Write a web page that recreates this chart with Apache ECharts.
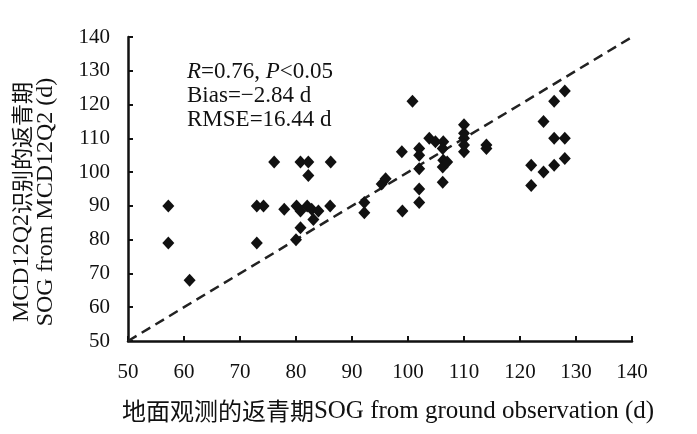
<!DOCTYPE html>
<html lang="zh">
<head>
    <meta charset="utf-8"/>
    <title>SOG scatter</title>
    <script src="https://cdn.jsdelivr.net/npm/echarts@6.0.0/dist/echarts.min.js"></script>
</head>
<body style="margin: 0; background: #fff">
<div id="chart" style="width: 697px; height: 434px"></div>
<script>
    const groundSog = [57.2, 57.2, 61, 73, 73, 74.2, 76.1, 77.9, 80, 80.1, 80.8, 80.8, 80.8, 82.2, 82.2, 82,
        82.8, 83.1, 84, 86.2, 86.1, 92.2, 92.2, 95.3, 96, 98.9, 99, 100.8, 102, 102, 102, 102, 102,
        103.8, 104.9, 106.3, 106.2, 106.3, 106.2, 106.2, 107, 110, 110, 110, 110, 110, 114, 114,
        122, 122, 124.2, 124.2, 126.1, 126.1, 126.1, 128, 128, 128];
    const modisSog = [90, 79, 68, 79, 90, 90, 103, 89, 80, 90, 83.5, 88.5, 103, 103, 99, 90,
        89, 86, 88.5, 103, 90, 91, 88, 96.5, 98, 106, 88.5, 121, 107, 105, 101, 95, 91,
        110, 109, 109, 107, 103.5, 101.5, 97, 103, 114, 111.5, 110, 108, 106, 108, 107,
        102, 96, 115, 100, 121, 110, 102, 124, 110, 104];
    const oneToOne = [[50, 50], [140, 140]];
    const statLines = ['{i|R}=0.76, {i|P}<0.05', 'Bias=\u22122.84 d', 'RMSE=16.44 d'];
    const xName = ['地面观测的返青期', 'SOG from ground observation (d)'];
    const yName = [['MCD12Q2', '识别的返青期'], ['SOG from MCD12Q2 (d)']];

    const serif = '"Liberation Serif", "Noto Sans CJK SC", serif';
    const ink = '#111';

    let points = groundSog.map((x, i) => [x, modisSog[i]]);

    let axisCommon = {
        type: 'value',
        min: 50,
        max: 140,
        interval: 10,
        axisLine: {onZero: false, lineStyle: {color: ink, width: 2.5}},
        axisTick: {inside: true, length: 5, lineStyle: {color: ink, width: 2}},
        splitLine: {show: false},
        axisLabel: {color: ink, fontFamily: serif, fontSize: 21},
        nameLocation: 'middle'
    };

    let nameRich = {
        cn: {fontFamily: '"Noto Sans CJK SC"', fontSize: 22, lineHeight: 24, color: ink},
        en: {fontFamily: serif, fontSize: 24, lineHeight: 24, color: ink}
    };

    let chart = echarts.init(document.getElementById('chart'));
    chart.setOption({
        animation: false,
        grid: {left: 128, right: 65, top: 37, bottom: 93},
        xAxis: Object.assign({}, axisCommon, {
            axisLabel: Object.assign({}, axisCommon.axisLabel, {margin: 21}),
            name: '{cn|' + xName[0] + '}{en|' + xName[1] + '}',
            nameGap: 58,
            nameTextStyle: {
                padding: [0, 0, 0, 16],
                rich: {
                    cn: Object.assign({}, nameRich.cn, {fontSize: 24}),
                    en: Object.assign({}, nameRich.en, {fontSize: 25})
                }
            }
        }),
        yAxis: Object.assign({}, axisCommon, {
            axisLabel: Object.assign({}, axisCommon.axisLabel, {margin: 18}),
            name: '{en|' + yName[0][0] + '}{cn|' + yName[0][1] + '}\n{en|' + yName[1][0] + '}',
            nameGap: 70,
            nameTextStyle: {lineHeight: 24, padding: [0, 26, 0, 0], rich: nameRich}
        }),
        graphic: [{
            type: 'text',
            left: 187,
            top: 60,
            style: {
                text: statLines.join('\n'),
                font: '23px ' + serif,
                lineHeight: 24,
                fill: ink,
                rich: {
                    i: {fontStyle: 'italic', fontFamily: serif, fontSize: 23, lineHeight: 24}
                }
            }
        }],
        series: [
            {
                type: 'line',
                data: oneToOne,
                symbol: 'none',
                lineStyle: {color: '#222', width: 2.5, type: [10, 6]},
                z: 1
            },
            {
                type: 'scatter',
                data: points,
                symbol: 'diamond',
                symbolSize: [12, 13],
                itemStyle: {color: ink, opacity: 1},
                z: 2
            }
        ]
    });
</script>
</body>
</html>
